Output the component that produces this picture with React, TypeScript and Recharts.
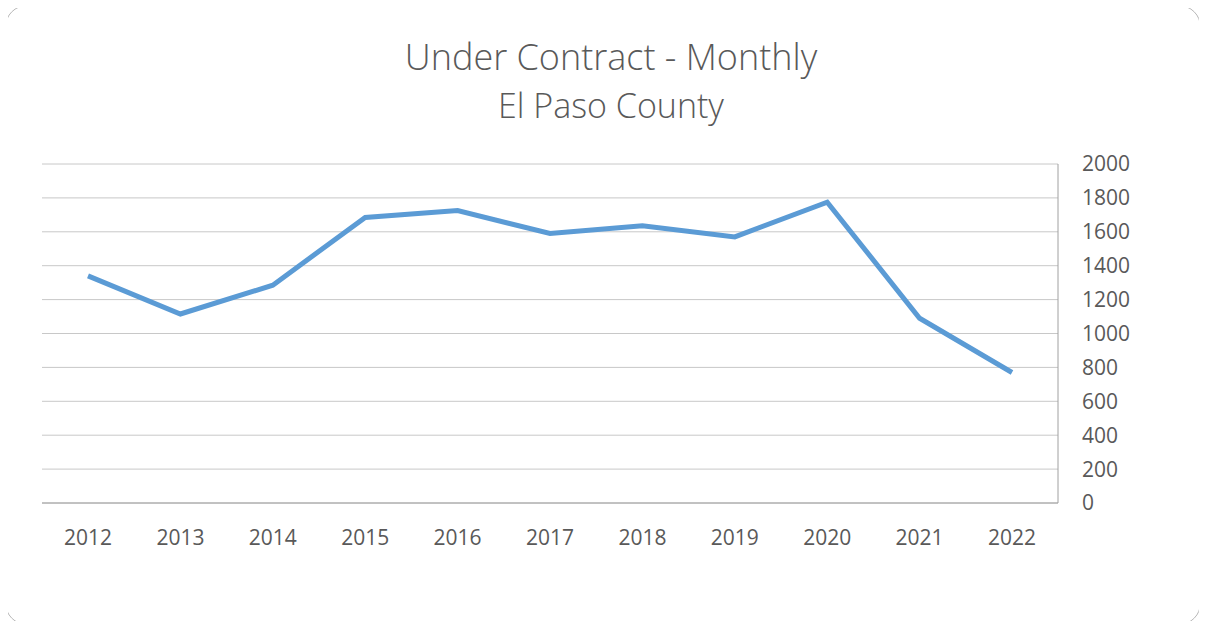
import React from "react";
import { LineChart, Line, XAxis, YAxis, CartesianGrid } from "recharts";

const years = ["2012", "2013", "2014", "2015", "2016", "2017", "2018", "2019", "2020", "2021", "2022"];
const underContract = [1340, 1115, 1285, 1685, 1725, 1590, 1635, 1570, 1775, 1090, 770];
const yTicks = [0, 200, 400, 600, 800, 1000, 1200, 1400, 1600, 1800, 2000];

const data = years.map((year, i) => ({ year, value: underContract[i] }));

const font = "'Open Sans', 'Liberation Sans', sans-serif";
const textColor = "#595959";

export default function App() {
  return (
    <div style={{ position: "relative", margin: -8, width: 1207, height: 629, background: "#fff", fontFamily: font }}>
      <div
        style={{
          position: "absolute", left: 5, top: 5, width: 1196, height: 620,
          border: "1px solid #b8b8b8", borderRadius: 22, boxSizing: "border-box",
        }}
      />
      <div style={{ position: "absolute", left: 261, width: 700, top: 32, textAlign: "center", color: textColor, fontSize: 36, fontWeight: 300, lineHeight: "50px" }}>
        Under Contract - Monthly
      </div>
      <div style={{ position: "absolute", left: 261, width: 700, top: 82, textAlign: "center", color: textColor, fontSize: 34, fontWeight: 300, lineHeight: "46px" }}>
        El Paso County
      </div>
      <div style={{ position: "absolute", left: 0, top: 0 }}>
        <LineChart width={1207} height={629} data={data} margin={{ top: 164, left: 42, right: 49, bottom: 86 }}>
          <CartesianGrid vertical={false} stroke="#c8c8c8" />
          <XAxis
            dataKey="year"
            padding={{ left: 46, right: 46 }}
            height={40}
            stroke="#a0a0a0"
            tickLine={false}
            tickMargin={21}
            tick={{ fill: textColor, fontSize: 21, fontFamily: font }}
          />
          <YAxis
            orientation="right"
            width={100}
            domain={[0, 2000]}
            ticks={yTicks}
            stroke="#a0a0a0"
            tickLine={false}
            tickMargin={18}
            textAnchor="start"
            tick={{ fill: textColor, fontSize: 21, fontFamily: font, textAnchor: "start" }}
          />
          <Line
            type="linear"
            dataKey="value"
            stroke="#5b9bd5"
            strokeWidth={5}
            dot={false}
            isAnimationActive={false}
          />
        </LineChart>
      </div>
    </div>
  );
}
